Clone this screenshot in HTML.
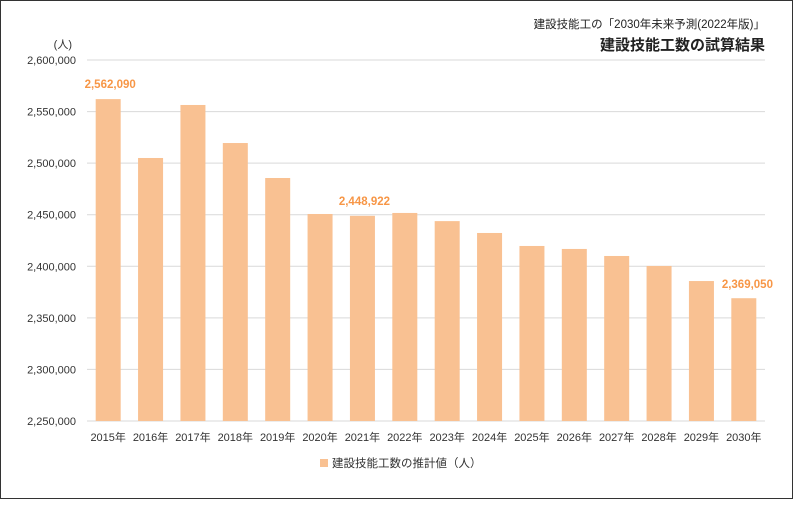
<!DOCTYPE html>
<html><head><meta charset="utf-8"><style>
body{margin:0;background:#fff;}
svg text{font-family:"Liberation Sans","Noto Sans CJK JP",sans-serif;}
</style></head><body>
<svg id="chart" width="794" height="500" xmlns="http://www.w3.org/2000/svg">
<rect x="0.5" y="0.5" width="792" height="498" fill="#fff" stroke="#333" stroke-width="1"/>
<text x="765" y="28" text-anchor="end" font-size="11.5" fill="#222">建設技能工の「2030年未来予測(2022年版)」</text>
<text x="765" y="50" text-anchor="end" font-size="15" font-weight="bold" fill="#222">建設技能工数の試算結果</text>
<text x="72" y="48" text-anchor="end" font-size="11" fill="#333">(人)</text>
<g id="grid"></g><g id="bars"></g><g id="labels"></g>
<rect x="320" y="459" width="8" height="8" fill="#f9c192"/>
<text x="332" y="467" font-size="11.5" fill="#333">建設技能工数の推計値（人）</text>
</svg>
<script>
const years=["2015年","2016年","2017年","2018年","2019年","2020年","2021年","2022年","2023年","2024年","2025年","2026年","2027年","2028年","2029年","2030年"];
const values=[2562090,2505000,2556400,2519500,2485600,2450700,2448922,2451700,2443800,2432300,2419700,2416800,2410000,2400300,2385700,2369050];
const yTicks=[2250000,2300000,2350000,2400000,2450000,2500000,2550000,2600000];
const labeledIdx=[0,6,15];
const NS="http://www.w3.org/2000/svg";
const yMin=2250000,yMax=2600000,yTop=60,yBot=421,xL=87,xR=765;
const y=v=>yBot-(v-yMin)/(yMax-yMin)*(yBot-yTop);
const band=(xR-xL)/years.length;
const xc=i=>xL+band*(i+0.5);
function mk(t,a,p){const e=document.createElementNS(NS,t);for(const k in a)e.setAttribute(k,a[k]);p.appendChild(e);return e;}
const g=document.getElementById('grid'),b=document.getElementById('bars'),l=document.getElementById('labels');
yTicks.forEach(v=>{
 const ln=mk('line',{x1:xL,x2:xR,y1:y(v),y2:y(v),stroke:'#d9d9d9','stroke-width':1},g);
 
 
 const t=mk('text',{x:76,y:y(v)+4,'text-anchor':'end','font-size':11,fill:'#333'},g);
 t.textContent=v.toLocaleString('en-US');
 
 
});
years.forEach((yr,i)=>{
 const r=mk('rect',{x:xc(i)-12.5,y:y(values[i]),width:25,height:yBot-y(values[i]),fill:'#f9c192'},b);
 
 
 const t=mk('text',{x:xc(i),y:441,'text-anchor':'middle','font-size':11,fill:'#333'},l);
 t.textContent=yr;
 
 
});
labeledIdx.forEach(i=>{
 const t=mk('text',{x:xc(i)+(i===15?0:2),y:y(values[i])-11,'text-anchor':'middle','font-size':11.5,'font-weight':'bold',fill:'#f79646'},l);
 if(i===15){t.setAttribute('x',xc(i)-14);t.setAttribute('y',y(values[i])-10);t.setAttribute('text-anchor','start');t.setAttribute('x',xc(i)-22);}
 t.textContent=values[i].toLocaleString('en-US');
 
 
});
</script>
</body></html>
